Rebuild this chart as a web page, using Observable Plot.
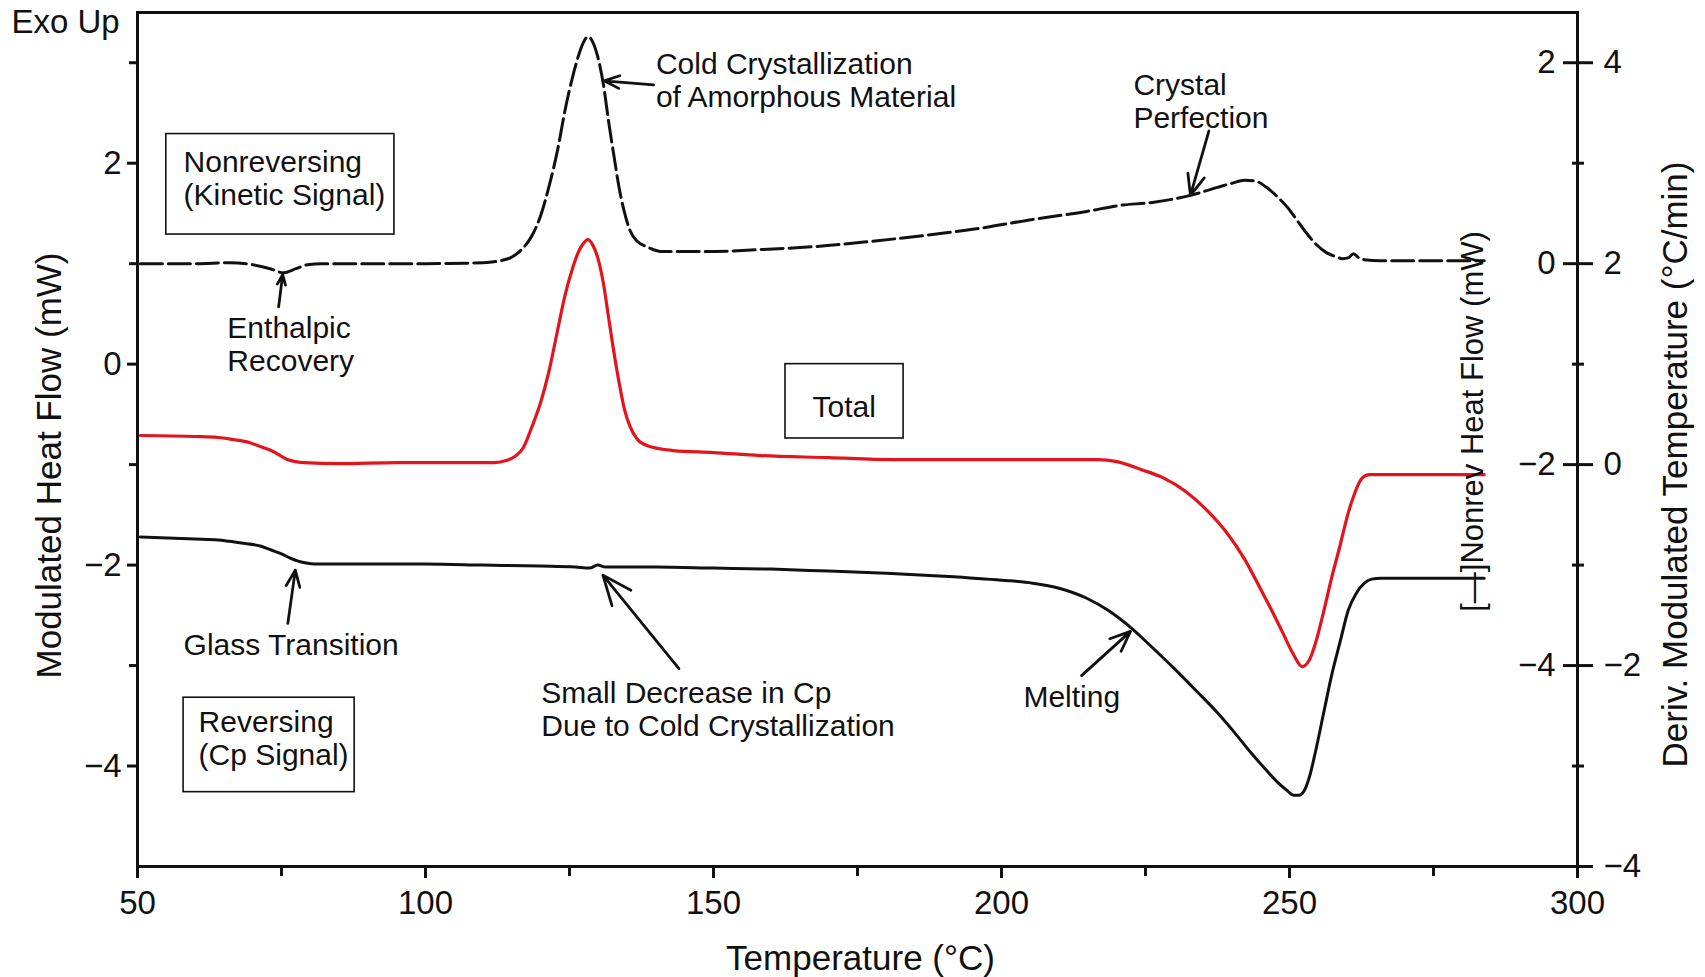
<!DOCTYPE html>
<html>
<head>
<meta charset="utf-8">
<script src="https://cdn.jsdelivr.net/npm/d3@7"></script>
<script src="https://cdn.jsdelivr.net/npm/@observablehq/plot@0.6"></script>
<style>
  html, body { margin: 0; padding: 0; background: #fff; }
  #chart { width: 1705px; height: 977px; }
</style>
</head>
<body>
<div id="chart"></div>
<script>
// ---------------- Data ----------------
// Temperature (°C) and Nonreversing heat flow (mW, own right-hand axis)
const nonrevT = [50.5, 60, 66, 70, 73, 75.3, 77.5, 79.5, 82, 100, 110, 113, 114.8, 116.5, 118.5, 120, 121.4, 123, 124.2, 125.5, 126.5, 127.4, 128.2, 129, 129.9, 130.9, 131.8, 132.7, 133.6, 134.5, 135.5, 136.8, 138.4, 141.2, 148.8, 158, 167.6, 177, 186.5, 196, 205.4, 214.8, 220.5, 226.2, 232.8, 237.5, 240, 242.2, 244.2, 246, 248, 249.8, 251.2, 252.6, 254.5, 256.4, 258, 259.2, 260.3, 261.1, 262, 263, 265.8, 275, 283.8];
const nonrevU = [0.00, 0.00, 0.01, -0.01, -0.05, -0.09, -0.05, -0.01, 0.00, 0.00, 0.01, 0.03, 0.06, 0.13, 0.28, 0.48, 0.76, 1.15, 1.52, 1.85, 2.06, 2.20, 2.26, 2.21, 2.06, 1.78, 1.41, 1.08, 0.76, 0.52, 0.33, 0.22, 0.17, 0.12, 0.12, 0.14, 0.17, 0.22, 0.28, 0.35, 0.44, 0.52, 0.58, 0.61, 0.68, 0.76, 0.80, 0.83, 0.82, 0.76, 0.66, 0.55, 0.44, 0.33, 0.20, 0.11, 0.07, 0.05, 0.06, 0.10, 0.06, 0.04, 0.03, 0.03, 0.03];

// Total heat flow (mW, left axis)
const totalT = [50.5, 60, 64, 66.5, 69.4, 71.3, 73.2, 74.8, 76, 77.5, 78.9, 85, 95, 105, 112, 114, 115.5, 117, 118.5, 120, 121.4, 122.8, 124.2, 125.4, 126.5, 127.4, 128.2, 129, 129.9, 130.9, 131.8, 132.7, 133.6, 134.5, 135.5, 136.8, 138.4, 143, 150, 158, 170, 181, 195, 210, 216.7, 220, 224.3, 228, 231.8, 235.6, 239.4, 242.2, 245, 246.9, 248.8, 250.6, 252.2, 253.4, 254.5, 255.9, 257.3, 258.8, 260.2, 261.1, 262, 262.9, 263.9, 270, 283.8];
const totalV = [-0.71, -0.72, -0.73, -0.75, -0.78, -0.82, -0.86, -0.91, -0.95, -0.97, -0.98, -0.99, -0.98, -0.98, -0.98, -0.96, -0.92, -0.83, -0.62, -0.38, -0.08, 0.30, 0.68, 0.93, 1.11, 1.20, 1.24, 1.19, 1.06, 0.80, 0.46, 0.12, -0.18, -0.44, -0.62, -0.75, -0.81, -0.86, -0.88, -0.91, -0.93, -0.95, -0.95, -0.95, -0.95, -0.97, -1.05, -1.13, -1.26, -1.45, -1.70, -1.94, -2.24, -2.45, -2.67, -2.88, -3.01, -2.95, -2.78, -2.47, -2.13, -1.80, -1.48, -1.32, -1.19, -1.12, -1.10, -1.10, -1.10];

// Reversing heat flow (mW, left axis)
const revT = [50.5, 60, 64, 68, 71.3, 73.2, 75.1, 76.5, 77.9, 79.3, 80.8, 90, 100, 110, 120, 126, 128.5, 129.9, 131.3, 133, 140, 150, 160, 170, 180, 190, 200, 205.4, 210, 214.8, 218.5, 222.4, 226, 230, 233.8, 237.5, 240.5, 243.2, 245.8, 247.9, 249.5, 250.7, 251.6, 252.6, 253.5, 254.5, 255.9, 257.3, 258.8, 260.2, 261.6, 263, 264.3, 265.8, 275, 283.8];
const revV = [-1.72, -1.74, -1.75, -1.78, -1.81, -1.85, -1.89, -1.93, -1.96, -1.98, -1.99, -1.99, -1.99, -2.00, -2.01, -2.02, -2.03, -2.00, -2.02, -2.02, -2.02, -2.03, -2.04, -2.06, -2.08, -2.11, -2.15, -2.18, -2.23, -2.33, -2.45, -2.62, -2.81, -3.03, -3.25, -3.47, -3.67, -3.86, -4.03, -4.16, -4.24, -4.29, -4.29, -4.24, -4.10, -3.86, -3.48, -3.10, -2.76, -2.45, -2.28, -2.18, -2.14, -2.13, -2.13, -2.13];

// Axis ticks
const xMajorTicks = [50, 100, 150, 200, 250, 300];
const xMinorTicks = [75, 125, 175, 225, 275];
const leftMajorTicks = [2, 0, -2, -4];
const leftMinorTicks = [3, 1, -1, -3];
const nonrevTicks = [2, 0, -2, -4];          // inner right axis (Nonrev Heat Flow)
const derivTicks = [4, 2, 0, -2, -4];         // outer right axis (Deriv. Modulated Temperature)
const rightMinorTicks = [2, 0, -2, -4];       // left-axis units
const NONREV_OFFSET = 1;   // nonrev axis value u sits at left-axis value u + 1
const DERIV_OFFSET = -1;   // deriv axis value w sits at left-axis value w - 1

// Annotations (data coordinates: °C, left-axis mW)
const noteText = [
  "Cold Crystallization\nof Amorphous Material",
  "Crystal\nPerfection",
  "Enthalpic\nRecovery",
  "Nonreversing\n(Kinetic Signal)",
  "Reversing\n(Cp Signal)",
  "Glass Transition",
  "Small Decrease in Cp\nDue to Cold Crystallization",
  "Melting"
];
const noteT = [140.0, 222.9, 65.6, 58.0, 60.6, 58.0, 120.1, 203.8];
const noteV = [2.83, 2.62, 0.20, 1.85, -3.72, -2.79, -3.43, -3.31];

const totalLabel = "Total";
const totalLabelT = 172.7, totalLabelV = -0.43;

// Boxes around the three curve names
const boxT1 = [55.0, 162.5, 58.0];
const boxT2 = [94.6, 183.0, 87.7];
const boxV1 = [2.29, 0.0, -3.32];
const boxV2 = [1.29, -0.74, -4.26];

// Arrows: tail (T1,V1) -> head (T2,V2)
const arrowT1 = [139.6, 236.0, 74.5, 76.1, 144.0, 213.9];
const arrowV1 = [2.78, 2.32, 0.57, -2.58, -3.03, -3.10];
const arrowT2 = [131.0, 232.8, 75.2, 77.4, 130.8, 222.4];
const arrowV2 = [2.82, 1.68, 0.89, -2.05, -2.10, -2.66];

// ---------------- Build tables ----------------
const nonrev = nonrevT.map((t, i) => ({T: t, y: nonrevU[i] + NONREV_OFFSET}));
const total = totalT.map((t, i) => ({T: t, y: totalV[i]}));
const rev = revT.map((t, i) => ({T: t, y: revV[i]}));
const notes = noteText.map((s, i) => ({text: s, T: noteT[i], V: noteV[i]}));
const boxes = boxT1.map((t, i) => ({x1: t, x2: boxT2[i], y1: boxV1[i], y2: boxV2[i]}));
const arrows = arrowT1.map((t, i) => ({x1: t, y1: arrowV1[i], x2: arrowT2[i], y2: arrowV2[i]}));

const fmt = v => { const r = Math.round(v * 100) / 100; return r < 0 ? "\u2212" + Math.abs(r) : String(r); };
const INK = "#111";
const TICK_FS = 33, NOTE_FS = 30, TITLE_FS = 35;

const chart = Plot.plot({
  width: 1705,
  height: 977,
  marginLeft: 137,
  marginRight: 128,
  marginTop: 12,
  marginBottom: 111,
  x: {domain: [50, 300]},
  y: {domain: [-5, 3.5]},
  style: {fontFamily: "'Liberation Sans', Arial, Helvetica, sans-serif", fontSize: TICK_FS + "px", background: "#fff", color: INK},
  marks: [
    // boxes
    Plot.rect(boxes, {x1: "x1", x2: "x2", y1: "y1", y2: "y2", fill: "none", stroke: INK, strokeWidth: 1.6}),
    // curves
    Plot.line(rev, {x: "T", y: "y", stroke: INK, strokeWidth: 3, curve: "monotone-x"}),
    Plot.line(total, {x: "T", y: "y", stroke: "#e3141b", strokeWidth: 3.2, curve: "monotone-x"}),
    Plot.line(nonrev, {x: "T", y: "y", stroke: INK, strokeWidth: 3, strokeDasharray: "22,6", curve: "monotone-x"}),
    // arrows
    Plot.arrow(arrows, {x1: "x1", y1: "y1", x2: "x2", y2: "y2", stroke: INK, strokeWidth: 2.8, headLength: 17, headAngle: 45}),
    // annotations
    Plot.text(notes, {x: "T", y: "V", text: "text", textAnchor: "start", lineAnchor: "middle", lineHeight: 33 / NOTE_FS, fontSize: NOTE_FS, fill: INK}),
    Plot.text([totalLabel], {x: () => totalLabelT, y: () => totalLabelV, text: d => d, textAnchor: "middle", lineAnchor: "middle", fontSize: NOTE_FS, fill: INK}),
    // frame
    Plot.frame({stroke: INK, strokeWidth: 3}),
    // bottom axis
    Plot.axisX({ticks: xMajorTicks, tickSize: 12, tickPadding: 12, strokeWidth: 3, label: null, tickFormat: d => String(d), fontSize: TICK_FS}),
    Plot.axisX({ticks: xMinorTicks, tickSize: 10, strokeWidth: 3, label: null, tickFormat: () => ""}),
    // left axis
    Plot.axisY({anchor: "left", ticks: leftMajorTicks, tickSize: 10, tickPadding: 6, strokeWidth: 3, label: null, tickFormat: fmt, fontSize: TICK_FS}),
    Plot.axisY({anchor: "left", ticks: leftMinorTicks, tickSize: 8, strokeWidth: 3, label: null, tickFormat: () => ""}),
    // right axes: crossing ticks
    Plot.axisY({anchor: "right", ticks: derivTicks.map(w => w + DERIV_OFFSET), tickSize: 30, dx: -15, strokeWidth: 3, label: null, tickFormat: () => ""}),
    Plot.axisY({anchor: "right", ticks: rightMinorTicks, tickSize: 12, dx: -6, strokeWidth: 3, label: null, tickFormat: () => ""}),
    // inner right labels (Nonrev Heat Flow)
    Plot.axisY({anchor: "right", ticks: nonrevTicks.map(u => u + NONREV_OFFSET), tickSize: 0, tickPadding: 0, dx: -22, textAnchor: "end", label: null, tickFormat: v => fmt(v - NONREV_OFFSET), fontSize: TICK_FS}),
    // outer right labels (Deriv. Modulated Temperature)
    Plot.axisY({anchor: "right", ticks: derivTicks.map(w => w + DERIV_OFFSET), tickSize: 0, tickPadding: 0, dx: 26, textAnchor: "start", label: null, tickFormat: v => fmt(v - DERIV_OFFSET), fontSize: TICK_FS}),
    // axis titles
    Plot.text(["Temperature (\u00B0C)"], {frameAnchor: "bottom", textAnchor: "middle", lineAnchor: "middle", dy: 92, dx: 3, fontSize: TITLE_FS, fill: INK}),
    Plot.text(["Modulated Heat Flow (mW)"], {frameAnchor: "left", textAnchor: "middle", lineAnchor: "middle", rotate: -90, dx: -88, dy: 26, fontSize: TITLE_FS, fill: INK}),
    Plot.text(["[\u2014]Nonrev Heat Flow (mW)"], {frameAnchor: "right", textAnchor: "middle", lineAnchor: "middle", rotate: -90, dx: -104, dy: -18, fontSize: 31, fill: INK}),
    Plot.text(["Deriv. Modulated Temperature (\u00B0C/min)"], {frameAnchor: "right", textAnchor: "middle", lineAnchor: "middle", rotate: -90, dx: 98, dy: 25, fontSize: TITLE_FS, fill: INK}),
    Plot.text(["Exo Up"], {frameAnchor: "top-left", textAnchor: "start", lineAnchor: "middle", dx: -126, dy: 10, fontSize: 33, fill: INK})
  ]
});
document.getElementById("chart").appendChild(chart);
</script>
</body>
</html>
